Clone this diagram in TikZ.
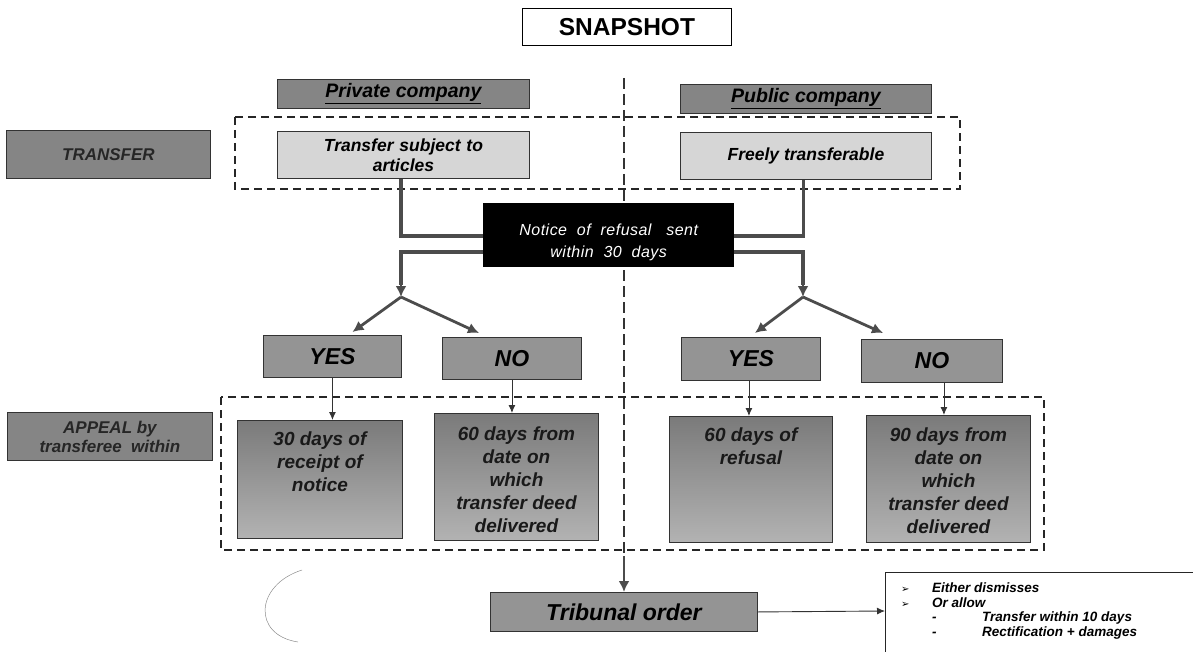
\documentclass[tikz,border=0pt]{standalone}
\usepackage{fontspec}
\setmainfont{Liberation Sans}
\newfontfamily\symfont{DejaVu Sans}
\usetikzlibrary{arrows.meta,calc}
\begin{document}
\begin{tikzpicture}[x=1pt,y=-1pt,
  box/.style={draw=black!80, line width=0.9pt, anchor=north west, inner sep=2pt, align=center},
  head/.style={box, fill=black!48, font=\fontsize{19.5}{21}\selectfont\bfseries\itshape},
  lite/.style={box, fill=black!16, font=\fontsize{17.5}{20}\selectfont\bfseries\itshape},
  side/.style={box, fill=black!48, font=\fontsize{17}{19}\selectfont\bfseries\itshape, text=black!85},
  yn/.style={box, fill=black!42, font=\fontsize{23}{25}\selectfont\bfseries\itshape},
  days/.style={draw=black!80, line width=0.9pt, anchor=north west, inner sep=0pt, top color=black!52, bottom color=black!30},
  daytext/.style={anchor=north, inner sep=0pt, align=center, text=black!90, font=\fontsize{19}{23}\selectfont\bfseries\itshape},
  dashbox/.style={draw=black!85, line width=1.6pt, dash pattern=on 8pt off 5pt},
  thick conn/.style={draw=black!70, line width=3.4pt},
  split/.style={draw=black!70, line width=2.8pt, -{Latex[length=11pt,width=11pt]}},
  thin arr/.style={draw=black!80, line width=0.9pt, -{Latex[length=8pt,width=7pt]}}
]
\useasboundingbox (0,0) rectangle (1193,652);

% title
\node[box, draw=black, fill=white, minimum width=209pt, minimum height=37pt, font=\fontsize{24.5}{26}\selectfont\bfseries] (snap) at (522,8) {SNAPSHOT};

% dashed frames
\draw[dashbox] (235,117) rectangle (960,189);
\draw[dashbox] (221,397) rectangle (1044,550);

% divider
\coordinate (dtop) at (624,78);
\coordinate (dbot) at (624,556);
\draw[draw=black!80, line width=2.4pt, dash pattern=on 11pt off 5pt] (dtop) -- (dbot);

% headers
\node[head, minimum width=252pt, minimum height=29pt] (priv) at (277,79) {\underline{Private company}};
\node[head, minimum width=251pt, minimum height=29pt] (pub) at (680,84) {\underline{Public company}};

% transfer row
\node[side, minimum width=204pt, minimum height=48pt] (transfer) at (6,130) {TRANSFER};
\node[lite, minimum width=252pt, minimum height=47pt, text width=235pt] (tsa) at (277,131) {Transfer subject to\\articles};
\node[lite, minimum width=251pt, minimum height=47pt] (free) at (680,132) {Freely transferable};

% notice
\node[anchor=north west, fill=black, minimum width=251pt, minimum height=64pt, inner sep=0pt] (notice) at (483,203) {};
\node[text=white, align=center, inner sep=0pt, font=\fontsize{16}{22}\selectfont\itshape\addfontfeature{LetterSpace=3}] (noticetext) at ([yshift=-7pt]notice.center) {Notice\ \ of\ \ refusal\ \ \ sent\\within\ \ 30\ \ days};

% yes/no
\node[yn, minimum width=138pt, minimum height=42pt] (yesL) at (263,335) {YES};
\node[yn, minimum width=139pt, minimum height=42pt] (noL) at (442,337) {NO};
\node[yn, minimum width=139pt, minimum height=43pt] (yesR) at (681,337) {YES};
\node[yn, minimum width=141pt, minimum height=43pt] (noR) at (861,339) {NO};

% appeal row
\node[side, minimum width=205pt, minimum height=48pt, font=\fontsize{17}{19}\selectfont\bfseries\itshape] (appeal) at (7,412) {APPEAL by\\transferee\ \ within};
\node[days, minimum width=165pt, minimum height=118pt] (d30) at (237,420) {};
\node[days, minimum width=164pt, minimum height=127pt] (d60) at (434,413) {};
\node[days, minimum width=163pt, minimum height=126pt] (d60r) at (669,416) {};
\node[days, minimum width=164pt, minimum height=127pt] (d90) at (866,415) {};
\node[daytext] (t30) at ([yshift=-12pt]d30.north) {30 days of\\receipt of\\notice};
\node[daytext] (t60) at ([yshift=-14pt]d60.north) {60 days from\\date on\\which\\transfer deed\\delivered};
\node[daytext] (t60r) at ([yshift=-12pt]d60r.north) {60 days of\\refusal};
\node[daytext] (t90) at ([yshift=-13pt]d90.north) {90 days from\\date on\\which\\transfer deed\\delivered};

% tribunal
\node[yn, minimum width=267pt, minimum height=39pt, font=\fontsize{23}{25}\selectfont\bfseries\itshape] (trib) at (490,592) {Tribunal order};

% result box
\coordinate (rb) at (885,611);
\draw[draw=black!85, line width=0.9pt] (1193,572) -- (885,572) -- (885,652);
\node[anchor=north west, inner sep=0pt, align=left, font=\fontsize{13.5}{14.5}\selectfont\bfseries\itshape] (res) at (901,583) {%
  \makebox[31pt][l]{\symfont\fontsize{10}{14.5}\selectfont ➢}Either dismisses\\
  \makebox[31pt][l]{\symfont\fontsize{10}{14.5}\selectfont ➢}Or allow\\
  \hspace{31pt}\makebox[50pt][l]{-}Transfer within 10 days\\
  \hspace{31pt}\makebox[50pt][l]{-}Rectification + damages};

% connectors top
\coordinate (ls) at (401,297);
\coordinate (rs) at (803,297);
\draw[thick conn] ([xshift=-2.5pt]tsa.south) |- ([yshift=-1pt]notice.west);
\draw[thick conn] ([yshift=-17pt]notice.west) -| ([yshift=12pt]ls);
\draw[split] ([yshift=22pt]ls) -- (ls);
\draw[thick conn] ([xshift=-2.5pt]free.south) |- ([yshift=-1pt]notice.east);
\draw[thick conn] ([yshift=-17pt]notice.east) -| ([yshift=12pt]rs);
\draw[split] ([yshift=22pt]rs) -- (rs);

% splits
\draw[split] (ls) -- ([xshift=20pt,yshift=3pt]yesL.north);
\draw[split] (ls) -- ([xshift=-33pt,yshift=4pt]noL.north);
\draw[split] (rs) -- ([xshift=4pt,yshift=4pt]yesR.north);
\draw[split] (rs) -- ([xshift=-49pt,yshift=6pt]noR.north);

% thin arrows
\draw[thin arr] (yesL.south) -- (yesL.south |- d30.north);
\draw[thin arr] (noL.south) -- (noL.south |- d60.north);
\draw[thin arr] ([xshift=-2pt]yesR.south) -- ([xshift=-2pt]yesR.south |- d60r.north);
\draw[thin arr] ([xshift=12pt]noR.south) -- ([xshift=12pt]noR.south |- d90.north);

% divider to tribunal
\draw[draw=black!70, line width=2.6pt, -{Latex[length=11pt,width=11pt]}] (dbot) -- (dbot |- trib.north);
\draw[thin arr] (trib.east) -- (rb);

% stray arc
\draw[black!45, line width=0.5pt] (302,570) .. controls (255,585) and (252,635) .. (298,642);
\end{tikzpicture}
\end{document}
